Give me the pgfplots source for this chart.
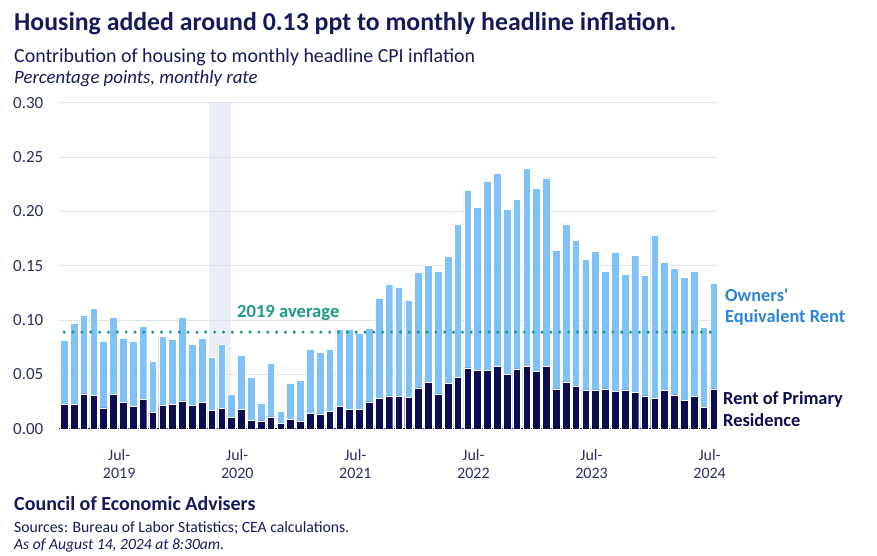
\documentclass[border=0pt]{standalone}
\usepackage{pgfplots}
\pgfplotsset{compat=1.18}
\usepackage{pgfplotstable}
\usepackage{fontspec}
\setmainfont{Carlito}
\font\aposfont="Carlito/B" at 18.4pt
\definecolor{navy}{HTML}{141A5A}
\definecolor{ticktxt}{HTML}{2B2F5E}
\definecolor{darkbar}{HTML}{0B0D4F}
\definecolor{lightbar}{HTML}{80C1F8}
\definecolor{oerlab}{HTML}{2E85D4}
\definecolor{tealc}{HTML}{1E9A88}
\definecolor{gridc}{HTML}{DEE1EE}
\definecolor{bandc}{HTML}{D9DDEB}

\pgfplotstableread{
idx rent oer
0 0.0224 0.0595
1 0.0224 0.0751
2 0.0322 0.0727
3 0.0307 0.0800
4 0.0193 0.0617
5 0.0316 0.0712
6 0.0242 0.0592
7 0.0206 0.0604
8 0.0273 0.0675
9 0.0153 0.0467
10 0.0218 0.0635
11 0.0227 0.0601
12 0.0258 0.0770
13 0.0218 0.0561
14 0.0242 0.0592
15 0.0169 0.0491
16 0.0190 0.0586
17 0.0104 0.0212
18 0.0178 0.0503
19 0.0080 0.0395
20 0.0074 0.0165
21 0.0110 0.0491
22 0.0049 0.0111
23 0.0089 0.0328
24 0.0074 0.0374
25 0.0144 0.0592
26 0.0138 0.0564
27 0.0160 0.0576
28 0.0209 0.0711
29 0.0178 0.0742
30 0.0178 0.0699
31 0.0248 0.0681
32 0.0279 0.0923
33 0.0304 0.1030
34 0.0298 0.1006
35 0.0288 0.0899
36 0.0377 0.1065
37 0.0426 0.1083
38 0.0322 0.1129
39 0.0417 0.1172
40 0.0475 0.1412
41 0.0561 0.1632
42 0.0537 0.1500
43 0.0537 0.1742
44 0.0577 0.1776
45 0.0503 0.1518
46 0.0552 0.1558
47 0.0577 0.1822
48 0.0528 0.1690
49 0.0577 0.1733
50 0.0368 0.1273
51 0.0433 0.1454
52 0.0393 0.1346
53 0.0359 0.1202
54 0.0359 0.1276
55 0.0368 0.1083
56 0.0344 0.1282
57 0.0359 0.1067
58 0.0337 0.1258
59 0.0304 0.1107
60 0.0279 0.1503
61 0.0353 0.1178
62 0.0313 0.1169
63 0.0261 0.1132
64 0.0298 0.1153
65 0.0199 0.0737
66 0.0368 0.0972
}\housing

\begin{document}
\begin{tikzpicture}[x=1pt,y=1pt]
\useasboundingbox (0,0) rectangle (877,556);
\begin{axis}[
  at={(60,117)}, anchor=south west,
  scale only axis, width=658pt, height=326pt,
  xmin=-0.52, xmax=66.35, ymin=0, ymax=0.30,
  ybar stacked, bar width=0.78,
  axis line style={draw=none},
  major tick length=0pt,
  ytick={0,0.05,...,0.31},
  ymajorgrids, grid style={gridc, line width=1pt},
  yticklabel style={/pgf/number format/fixed, /pgf/number format/fixed zerofill,
    /pgf/number format/precision=2, font=\fontsize{17}{17}\selectfont,
    text=ticktxt, anchor=east, inner sep=0pt, xshift=-15.5pt},
  /pgf/number format/assume math mode=true,
  xtick={6,18,30,42,54,66},
  xticklabels={Jul-\\2019,Jul-\\2020,Jul-\\2021,Jul-\\2022,Jul-\\2023,Jul-\\2024},
  xticklabel style={align=center, font=\fontsize{16}{18.5}\selectfont, text=ticktxt,
    anchor=north, inner sep=0pt, yshift=-20pt, xshift=-4pt},
  clip=false,
]
\addplot[fill=darkbar, draw=white, line width=0.4pt] table[x=idx, y=rent] {\housing};
\addplot[fill=lightbar, draw=white, line width=0.4pt] table[x=idx, y=oer] {\housing};
\fill[bandc, opacity=0.5] (axis cs:14.77,0) rectangle (axis cs:16.92,0.30);
\draw[darkbar, line width=1.2pt] (axis cs:-0.52,0) -- (axis cs:66.35,0);
\end{axis}
% overlay axis for the 2019 average line (drawn on top of the bars)
\begin{axis}[
  at={(60,117)}, anchor=south west,
  scale only axis, width=658pt, height=326pt,
  xmin=-0.52, xmax=66.35, ymin=0, ymax=0.30,
  hide axis, clip=false,
]
\addplot[tealc, line width=3.4pt, line cap=round, dash pattern=on 0pt off 8.85pt, mark=none]
  coordinates {(0,0.089) (66.1,0.089)};
\end{axis}
% titles
\node[anchor=base west, inner sep=0pt, text=navy, font=\fontsize{25.8}{25.8}\selectfont\bfseries] at (14,525.3) {Housing added around 0.13 ppt to monthly headline inflation.};
\node[anchor=base west, inner sep=0pt, text=navy, font=\fontsize{19.9}{19.9}\selectfont] at (14,493.7) {Contribution of housing to monthly headline CPI inflation};
\node[anchor=base west, inner sep=0pt, text=navy, font=\fontsize{18.8}{18.8}\selectfont\itshape] at (14,472) {Percentage points, monthly rate};
% annotations
\node[anchor=base west, inner sep=0pt, text=tealc, font=\fontsize{18.6}{18.6}\selectfont\bfseries] at (237,238.3) {2019 average};
\node[anchor=base west, inner sep=0pt, text=oerlab, font=\fontsize{18.4}{18.4}\selectfont\bfseries] at (725,254.3) {Owners{\aposfont'}};
\node[anchor=base west, inner sep=0pt, text=oerlab, font=\fontsize{18.4}{18.4}\selectfont\bfseries] at (725,233.3) {Equivalent Rent};
\node[anchor=base west, inner sep=0pt, text=darkbar, font=\fontsize{18.4}{18.4}\selectfont\bfseries] at (723,151) {Rent of Primary};
\node[anchor=base west, inner sep=0pt, text=darkbar, font=\fontsize{18.4}{18.4}\selectfont\bfseries] at (723,129.3) {Residence};
% footer
\node[anchor=base west, inner sep=0pt, text=navy, font=\fontsize{20}{20}\selectfont\bfseries] at (14,45.3) {Council of Economic Advisers};
\node[anchor=base west, inner sep=0pt, text=navy, font=\fontsize{15.7}{15.7}\selectfont] at (14,23.3) {Sources: Bureau of Labor Statistics; CEA calculations.};
\node[anchor=base west, inner sep=0pt, text=navy, font=\fontsize{15.6}{15.6}\selectfont\itshape] at (14,6.7) {As of August 14, 2024 at 8:30am.};
\end{tikzpicture}
\end{document}
